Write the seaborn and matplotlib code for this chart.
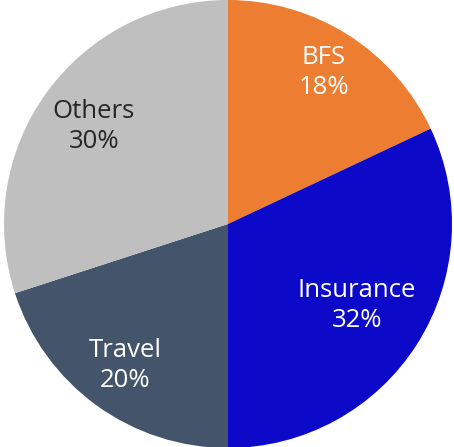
import matplotlib
matplotlib.use("Agg")
import matplotlib.pyplot as plt
import seaborn as sns
import numpy as np

categories = ["BFS", "Insurance", "Travel", "Others"]
shares = [18, 32, 20, 30]
colors = ["#ED7D31", "#0C09C8", "#44546A", "#BFBFBF"]
text_colors = ["white", "white", "white", "#262626"]
label_radius = [0.80, 0.68, 0.78, 0.74]

sns.set_style("white")
plt.rcParams["font.family"] = ["Open Sans", "DejaVu Sans"]

fig = plt.figure(figsize=(4.54, 4.47), dpi=100)
ax = fig.add_axes([0, 0, 1, 1])
labels = [f"{c}\n{s}%" for c, s in zip(categories, shares)]
wedges, texts = ax.pie(shares, colors=colors, startangle=90, counterclock=False,
                       labels=labels, labeldistance=0.75,
                       wedgeprops=dict(linewidth=0), radius=1.0)
for w, t, r, tc in zip(wedges, texts, label_radius, text_colors):
    ang = np.deg2rad((w.theta1 + w.theta2) / 2)
    t.set_position((r * np.cos(ang), r * np.sin(ang)))
    t.set_ha("center")
    t.set_va("center")
    t.set_multialignment("center")
    t.set_color(tc)
    t.set_fontsize(18.5)
    t.set_linespacing(1.28)

R = 224.0
ax.set_xlim(-228 / R, (454 - 228) / R)
ax.set_ylim(-223 / R, 224 / R)
ax.set_aspect("auto")
ax.axis("off")
fig.savefig("out.png", dpi=100)
